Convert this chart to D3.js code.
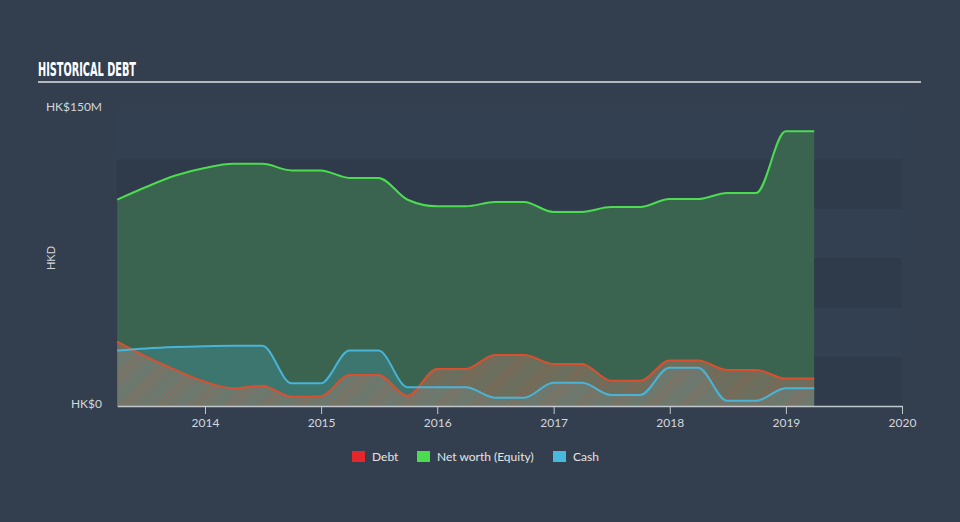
<!DOCTYPE html>
<html>
<head>
<meta charset="utf-8">
<script src="https://cdn.jsdelivr.net/npm/d3@7"></script>
<style>
  html, body { margin: 0; padding: 0; background: #333f4f; }
  svg { display: block; }
</style>
</head>
<body>
<svg id="chart" width="960" height="522"></svg>
<script>
// ---- Data (HK$ millions, quarter ends) ----
const dates = [
  "2013-03-31","2013-06-30","2013-09-30","2013-12-31",
  "2014-03-31","2014-06-30","2014-09-30","2014-12-31",
  "2015-03-31","2015-06-30","2015-09-30","2015-12-31",
  "2016-03-31","2016-06-30","2016-09-30","2016-12-31",
  "2017-03-31","2017-06-30","2017-09-30","2017-12-31",
  "2018-03-31","2018-06-30","2018-09-30","2018-12-31",
  "2019-03-31"
];
const debt = [32.6, 25.0, 18.3, 12.3, 9.0, 10.3, 4.7, 5.0, 15.7, 15.7, 5.1, 18.8,
              18.8, 25.9, 25.9, 21.3, 21.3, 12.8, 12.8, 23.0, 23.0, 18.3, 18.3, 13.9, 13.9];
const equity = [104.6, 111.0, 116.8, 120.6, 122.7, 122.7, 119.4, 119.4, 115.6, 115.6, 104.5, 101.2,
                101.2, 103.4, 103.4, 98.3, 98.3, 100.8, 100.8, 104.9, 104.9, 108.0, 108.0, 139.2, 139.2];
const cash = [28.1, 29.2, 29.9, 30.3, 30.5, 30.5, 11.5, 11.5, 28.1, 28.1, 9.5, 9.5,
              9.5, 4.2, 4.2, 11.8, 11.8, 5.6, 5.6, 19.4, 19.4, 2.7, 2.7, 9.0, 9.0];
const yTickLabels = ["HK$0", "HK$150M"];
const yTickValues = [0, 150];
const xTickYears = [2014, 2015, 2016, 2017, 2018, 2019, 2020];
const legendItems = ["Debt", "Net worth (Equity)", "Cash"];
const legendColors = ["#e5262a", "#4cdc4f", "#48b8dc"];

// ---- Setup ----
const svg = d3.select("#chart");
const parse = d3.timeParse("%Y-%m-%d");
const rows = dates.map((d, i) => ({ date: parse(d), debt: debt[i], equity: equity[i], cash: cash[i] }));

const x = d3.scaleTime()
  .domain([new Date(2014, 0, 1), new Date(2020, 0, 1)])
  .range([205, 902]);
const y = d3.scaleLinear().domain([0, 150]).range([406, 110]);
const xStart = x(rows[0].date);
const xEnd = 902;

// background bands
const bandEdges = [0, 25, 50, 75, 100, 125];
svg.append("g").selectAll("rect")
  .data(bandEdges)
  .join("rect")
  .attr("x", xStart)
  .attr("width", xEnd - xStart)
  .attr("y", d => y(d + 25))
  .attr("height", d => y(d) - y(d + 25))
  .attr("fill", (d, i) => i % 2 === 0 ? "#2f3a4a" : "#334051");

// Title
svg.append("text")
  .attr("x", 38).attr("y", 76)
  .attr("font-family", "'Liberation Sans Narrow', 'DejaVu Sans Condensed', sans-serif")
  .attr("font-weight", "bold")
  .attr("font-size", 20)
  .attr("fill", "#ffffff")
  .attr("textLength", 98)
  .attr("lengthAdjust", "spacingAndGlyphs")
  .text("HISTORICAL DEBT");
svg.append("rect")
  .attr("x", 38).attr("y", 81).attr("width", 883).attr("height", 2)
  .attr("fill", "#b4b9c0");

// hatch pattern
const defs = svg.append("defs");
const pat = defs.append("pattern")
  .attr("id", "hatch")
  .attr("patternUnits", "userSpaceOnUse")
  .attr("width", 3).attr("height", 3)
  .attr("patternTransform", "rotate(45)");
pat.append("rect").attr("width", 3).attr("height", 3).attr("fill", "rgba(140,145,140,0.35)");
pat.append("rect").attr("width", 1.3).attr("height", 3).attr("fill", "rgba(200,85,55,0.5)");

const curve = d3.curveMonotoneX;

// Equity area
svg.append("path")
  .datum(rows)
  .attr("fill", "#3a6450")
  .attr("d", d3.area().curve(curve).x(d => x(d.date)).y0(y(0)).y1(d => y(d.equity)));

// Cash area
svg.append("path")
  .datum(rows)
  .attr("fill", "rgba(72,184,220,0.22)")
  .attr("d", d3.area().curve(curve).x(d => x(d.date)).y0(y(0)).y1(d => y(d.cash)));

// Debt area (hatched)
svg.append("path")
  .datum(rows)
  .attr("fill", "url(#hatch)")
  .attr("d", d3.area().curve(curve).x(d => x(d.date)).y0(y(0)).y1(d => y(d.debt)));

// lines
const line = key => d3.line().curve(curve).x(d => x(d.date)).y(d => y(d[key]));
svg.append("path").datum(rows).attr("fill", "none").attr("stroke", "#4cdc4f").attr("stroke-width", 2).attr("d", line("equity"));
svg.append("path").datum(rows).attr("fill", "none").attr("stroke", "#d9502f").attr("stroke-width", 2).attr("d", line("debt"));
svg.append("path").datum(rows).attr("fill", "none").attr("stroke", "#48b4d8").attr("stroke-width", 2).attr("d", line("cash"));

// X axis
const xAxisScale = x.copy().domain([rows[0].date, new Date(2020, 0, 1)]).range([xStart, xEnd]);
const xAxis = d3.axisBottom(xAxisScale)
  .tickValues(xTickYears.map(yv => new Date(yv, 0, 1)))
  .tickFormat(d3.timeFormat("%Y"))
  .tickSizeInner(8)
  .tickSizeOuter(0)
  .tickPadding(4);
const gx = svg.append("g").attr("transform", "translate(0,406)").call(xAxis);
gx.select(".domain").attr("stroke", "#c3c8cf").attr("stroke-width", 1.5);
gx.selectAll(".tick line").attr("stroke", "#c3c8cf");
gx.selectAll(".tick text")
  .attr("fill", "#d4d7dc")
  .attr("font-family", "Lato, 'Open Sans', sans-serif")
  .attr("font-size", 12);

// Y labels
svg.append("g").selectAll("text")
  .data(yTickValues)
  .join("text")
  .attr("x", 102)
  .attr("y", (d, i) => i === 0 ? y(d) + 2 : y(d) + 1)
  .attr("text-anchor", "end")
  .attr("font-family", "Lato, 'Open Sans', sans-serif")
  .attr("font-size", 12)
  .attr("fill", "#d4d7dc")
  .text((d, i) => yTickLabels[i]);

svg.append("text")
  .attr("transform", "translate(55,258) rotate(-90)")
  .attr("text-anchor", "middle")
  .attr("font-family", "Lato, 'Open Sans', sans-serif")
  .attr("font-size", 11)
  .attr("fill", "#d4d7dc")
  .text("HKD");

// Legend
const legendX = [352, 417, 553];
const lg = svg.append("g").selectAll("g")
  .data(legendItems)
  .join("g")
  .attr("transform", (d, i) => `translate(${legendX[i]},451)`);
lg.append("rect").attr("width", 13).attr("height", 11).attr("fill", (d, i) => legendColors[i]);
lg.append("text")
  .attr("x", 20).attr("y", 10)
  .attr("font-family", "Lato, 'Open Sans', sans-serif")
  .attr("font-size", 12)
  .attr("fill", "#e2e4e8")
  .text(d => d);
</script>
</body>
</html>
